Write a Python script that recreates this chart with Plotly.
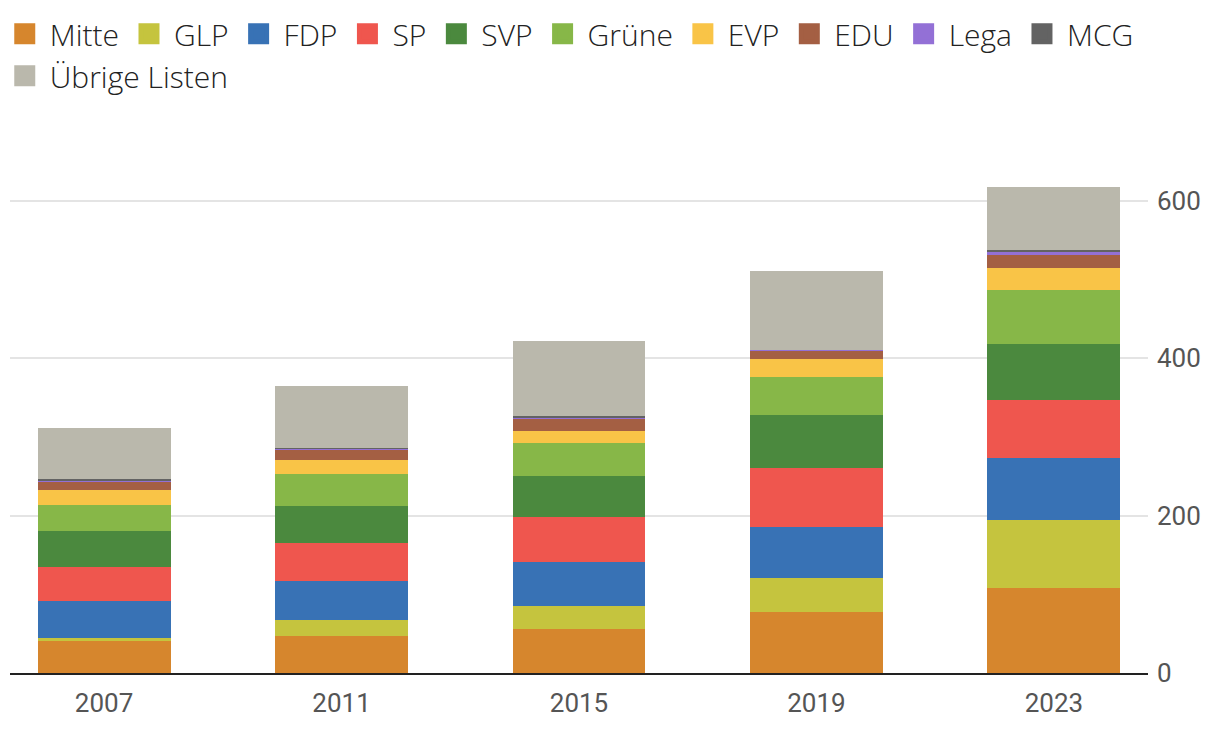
import plotly.graph_objects as go

years = ["2007", "2011", "2015", "2019", "2023"]
parties = ["Mitte", "GLP", "FDP", "SP", "SVP", "Grüne", "EVP", "EDU", "Lega", "MCG", "Übrige Listen"]

mitte = [41, 47, 56, 78, 108]
glp = [3, 20, 29, 43, 86]
fdp = [47, 50, 56, 64, 79]
sp = [44, 48, 57, 76, 74]
svp = [45, 47, 53, 67, 71]
gruene = [34, 41, 41, 48, 69]
evp = [19, 18, 15, 23, 28]
edu = [11, 13, 17, 11, 16]
lega = [1, 1, 1, 1, 5]
mcg = [1, 1, 2, 0, 2]
uebrige = [65, 79, 95, 100, 80]
totals = [311, 365, 422, 511, 618]

series = [mitte, glp, fdp, sp, svp, gruene, evp, edu, lega, mcg, uebrige]
colors = ["#D6862D", "#C5C43E", "#3872B5", "#EF564E", "#4B893E", "#87B748",
          "#F9C447", "#A45F43", "#9370D6", "#636363", "#BAB8AC"]

FONT = "Roboto"
LEGFONT = "Open Sans"

fig = go.Figure()
for name, vals, col in zip(parties, series, colors):
    fig.add_trace(go.Bar(
        x=years, y=vals, name=name, marker=dict(color=col, line=dict(width=0)),
        width=0.56, showlegend=False, legendgroup=name,
    ))
for name, col in zip(parties, colors):
    fig.add_trace(go.Scatter(
        x=[None], y=[None], mode="markers", name=name, legendgroup=name,
        marker=dict(symbol="square", size=16, color=col, line=dict(width=5, color=col)),
        showlegend=True,
    ))

for yr, t in zip(years, totals):
    fig.add_annotation(x=yr, y=t, text=f"<b>{t}</b>", showarrow=False,
                       yanchor="bottom", yshift=8,
                       font=dict(family=FONT, size=24, color="#444444"))

fig.update_layout(
    width=1220, height=738,
    margin=dict(l=10, r=72, t=130, b=65, autoexpand=False),
    paper_bgcolor="white", plot_bgcolor="white",
    barmode="stack", bargap=0.44,
    font=dict(family=FONT, color="#555555"),
    legend=dict(orientation="h", traceorder="grouped", x=-0.009, xanchor="left",
                y=1.225, yanchor="top",
                font=dict(family=LEGFONT, size=30, color="#222222", weight=300),
                itemwidth=40, tracegroupgap=0,
                itemclick=False, itemdoubleclick=False),
    xaxis=dict(type="category", range=[-0.396, 4.396], showline=True, linecolor="#222222",
               linewidth=2, ticks="", ticklabelstandoff=6,
               tickfont=dict(family=FONT, size=26, color="#555555"), showgrid=False),
    yaxis=dict(side="right", range=[0, 690.25], tickvals=[0, 200, 400, 600],
               showgrid=True, gridcolor="#E4E4E4", gridwidth=2, zeroline=False,
               ticks="", ticklabelstandoff=8,
               tickfont=dict(family=FONT, size=26, color="#555555")),
)

fig.write_html("out.html", config={"displayModeBar": False},
               post_script="document.body.style.margin='0px';document.body.style.overflow='hidden';")
